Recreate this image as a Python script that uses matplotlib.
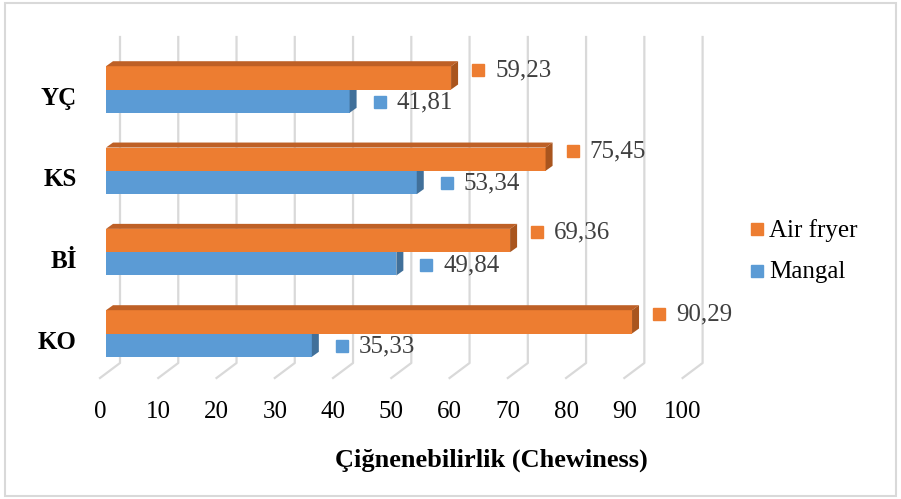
import matplotlib
matplotlib.use("Agg")
import matplotlib.pyplot as plt
from matplotlib.patches import Polygon, Rectangle

plt.rcParams['font.family'] = ['Liberation Serif', 'DejaVu Serif']

# ---- data ----
categories = ["KO", "Bİ", "KS", "YÇ"]
air_fryer = [90.29, 69.36, 75.45, 59.23]
mangal = [35.33, 49.84, 53.34, 41.81]
series_names = ["Air fryer", "Mangal"]
x_ticks = [0, 10, 20, 30, 40, 50, 60, 70, 80, 90, 100]
x_title = "Çiğnenebilirlik (Chewiness)"

# ---- style ----
W, H = 901, 499
S = 5.826   # px per value unit
C = 81.33   # px per category step
X0 = 106    # px of value 0 (bar front plane)
Y0 = 333.5  # px of first category centre
ORANGE, ORANGE_TOP, ORANGE_SIDE = "#ED7D31", "#BE6026", "#A9551E"
BLUE, BLUE_SIDE = "#5B9BD5", "#41709A"
GRID = "#D9D9D9"
LABEL_C = "#404040"

def px(dxp):
    return dxp / S

def py(dyp):  # upward pixels -> category units
    return dyp / C

def ypix(p):  # absolute pixel y -> data y
    return (Y0 - p) / C

fig = plt.figure(figsize=(W / 100, H / 100), dpi=100)
ax = fig.add_axes([0, 0, 1, 1])
ax.set_xlim(-X0 / S, (W - X0) / S)
ax.set_ylim(ypix(H), ypix(0))
ax.axis("off")

# frame
fig.patches.append(Rectangle((5 / W, 1 - 496 / H), 891 / W, 493 / H,
                             transform=fig.transFigure, fill=False,
                             edgecolor=GRID, lw=1.5))

# back wall gridlines + floor lines
back_dx, front_dx = px(14), px(-6)
for t in x_ticks:
    ax.plot([t + back_dx, t + back_dx, t + front_dx],
            [ypix(37), ypix(363), ypix(378)], color=GRID, lw=1.6,
            solid_joinstyle="round", zorder=1)
    ax.text(t + front_dx, ypix(418), str(t), ha="center", va="baseline",
            fontsize=18, color="#000000")

# bars
h = py(23.3)
ddx, ddy = px(7), py(5)
for i, (a, m) in enumerate(zip(air_fryer, mangal)):
    # blue (lower)
    ax.barh(i - h / 2, m, height=h, color=BLUE, zorder=3)
    ax.add_patch(Polygon([(m, i - h), (m, i), (m + ddx, i + ddy),
                          (m + ddx, i - h + ddy)], closed=True,
                         facecolor=BLUE_SIDE, edgecolor="none", zorder=3))
    # orange (upper)
    ax.barh(i + h / 2, a, height=h, color=ORANGE, zorder=4)
    ax.add_patch(Polygon([(0, i + h), (a, i + h), (a + ddx, i + h + ddy),
                          (ddx, i + h + ddy)], closed=True,
                         facecolor=ORANGE_TOP, edgecolor="none", zorder=4))
    ax.add_patch(Polygon([(a, i), (a, i + h), (a + ddx, i + h + ddy),
                          (a + ddx, i + ddy)], closed=True,
                         facecolor=ORANGE_SIDE, edgecolor="none", zorder=4))
    # data labels
    ax.plot(a + px(27), i + py(20), marker="s", ms=8.5, color=ORANGE,
            zorder=5, clip_on=False)
    ax.text(a + px(27 + 17), i + py(13.5), f"{a:.2f}".replace(".", ","),
            ha="left", va="baseline", fontsize=18, color=LABEL_C)
    ax.plot(m + px(30), i - py(12.5), marker="s", ms=8.5, color=BLUE,
            zorder=5, clip_on=False)
    ax.text(m + px(30 + 17), i - py(19), f"{m:.2f}".replace(".", ","),
            ha="left", va="baseline", fontsize=18, color=LABEL_C)
    # category label
    ax.text(px(77 - X0), i - py(15.5), categories[i], ha="right",
            va="baseline", fontsize=18, fontweight="bold", color="#000000")

# axis title
ax.text(px(491 - X0), ypix(467), x_title, ha="center", va="baseline",
        fontsize=19, fontweight="bold", color="#000000")

# legend
for name, col, sq_y, base_y in [(series_names[0], ORANGE, 229, 236.5),
                                (series_names[1], BLUE, 271, 278)]:
    ax.plot(px(756.5 - X0), ypix(sq_y), marker="s", ms=8.5, color=col,
            clip_on=False)
    ax.text(px(769 - X0), ypix(base_y), name, ha="left", va="baseline",
            fontsize=18, color="#000000")

fig.savefig("out.png", dpi=100)
